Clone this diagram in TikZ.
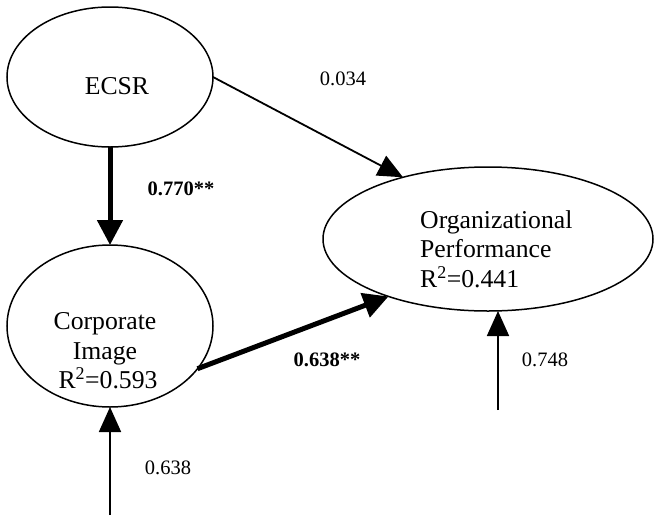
\documentclass[tikz,border=0pt]{standalone}
\usepackage{fontspec}
\setmainfont{Liberation Serif}
\usepackage{tikz}
\usetikzlibrary{
    positioning,
    arrows.meta,
    shapes.geometric
}
\tikzset{
    latent/.style={
        ellipse, draw, line width=1.5pt,
        inner sep=0pt, outer sep=0pt
    },
    latenttext/.style={
        inner sep=0pt, font=\fontsize{25.7}{29.5}\selectfont
    },
    coef/.style={
        inner sep=0pt, font=\fontsize{20.5}{24}\selectfont
    }
}

\begin{document}
\begin{tikzpicture}[
        x=1pt, y=-1pt,
        path_arrow/.style={-{Triangle[length=25pt,width=22pt]}, line width=1.8pt, draw=black},
        sig_arrow/.style={-{Triangle[length=25pt,width=25pt]}, line width=5pt, draw=black}
    ]

        \useasboundingbox (0,0) rectangle (654,515);

        % Latent variables
        \node[latent, minimum width=206pt, minimum height=140pt] (ecsr) at (110,77) {};
        \node[latent, minimum width=206pt, minimum height=162pt] (image) at (110,326) {};
        \node[latent, minimum width=330pt, minimum height=144pt] (perf) at (488,239) {};

        % Texts
        \node[latenttext] (ecsr_text) at (117,86) {ECSR};
        \node[latenttext, align=center] (image_text) at (105,351) {Corporate\\Image\\\hspace*{6pt}R\textsuperscript{2}=0.593};
        \node[latenttext, align=left, anchor=west] (perf_text) at (420,249) {Organizational\\Performance\\R\textsuperscript{2}=0.441};

        % Error terms
        \coordinate (e_image) at (110,515);
        \coordinate (e_perf) at (498,410);

        % Paths
        \draw[sig_arrow] (ecsr.south) -- (image.north);
        \draw[path_arrow] (ecsr.east) -- (perf.144);
        \draw[sig_arrow] (image.-26) -- (perf.210);
        \draw[path_arrow] (e_image) -- (image.south);
        \draw[path_arrow] (e_perf) -- (e_perf |- perf.south);

        % Coefficients
        \node[coef] (c_ecsr_image) at (181,189) {\textbf{0.770**}};
        \node[coef] (c_ecsr_perf) at (343,79) {0.034};
        \node[coef] (c_image_perf) at (327,360) {\textbf{0.638**}};
        \node[coef] (c_e_image) at (168,468) {0.638};
        \node[coef] (c_e_perf) at (545,360) {0.748};

    \end{tikzpicture}
\end{document}
